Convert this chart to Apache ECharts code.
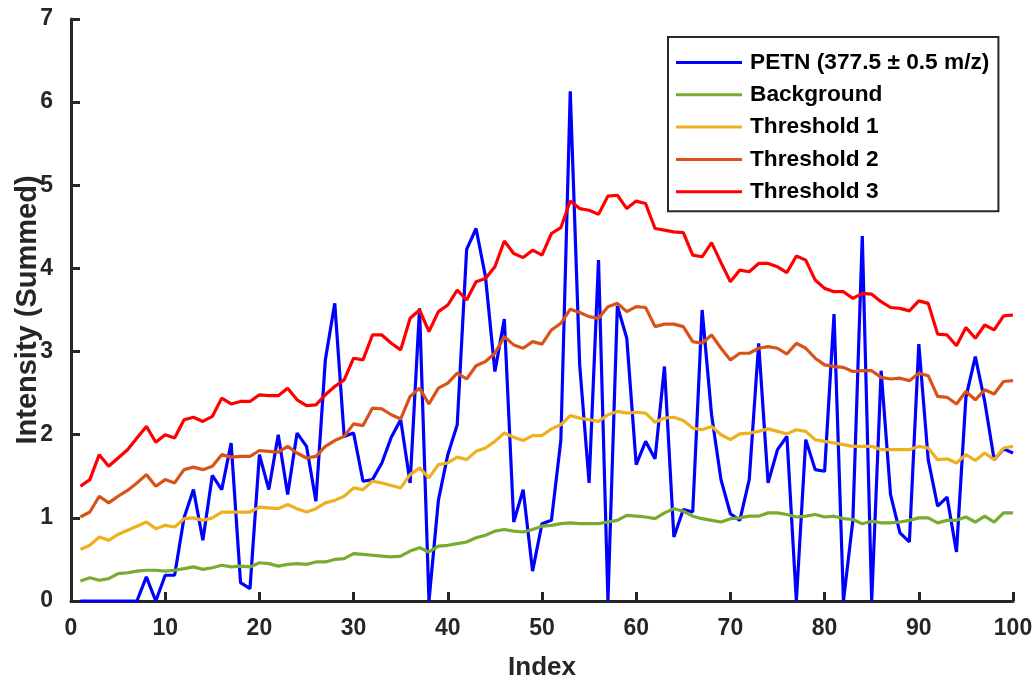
<!DOCTYPE html>
<html>
<head>
<meta charset="utf-8">
<script src="https://cdn.jsdelivr.net/npm/echarts@6/dist/echarts.min.js"></script>
<style>
  html, body { margin: 0; padding: 0; background: #fff; }
  #chart { width: 1034px; height: 680px; }
</style>
</head>
<body>
<div id="chart"></div>
<script>
// index 1..100
const index = Array.from({ length: 100 }, (_, i) => i + 1);

const petn = [
  0, 0, 0, 0, 0, 0, 0, 0.29, 0, 0.31,
  0.31, 1.0, 1.34, 0.73, 1.51, 1.34, 1.9, 0.22, 0.15, 1.76,
  1.34, 2.0, 1.28, 2.02, 1.86, 1.2, 2.9, 3.58, 1.98, 2.02,
  1.44, 1.46, 1.66, 1.97, 2.18, 1.42, 3.52, 0, 1.21, 1.76,
  2.12, 4.23, 4.48, 3.9, 2.76, 3.39, 0.95, 1.34, 0.36, 0.93,
  0.97, 1.93, 6.13, 2.84, 1.42, 4.1, 0, 3.55, 3.16, 1.64,
  1.92, 1.71, 2.82, 0.77, 1.1, 1.07, 3.5, 2.24, 1.46, 1.05,
  0.97, 1.46, 3.1, 1.42, 1.82, 1.98, 0, 1.94, 1.58, 1.56,
  3.45, 0, 0.97, 4.39, 0, 2.77, 1.28, 0.82, 0.71, 3.09,
  1.7, 1.14, 1.25, 0.59, 2.45, 2.94, 2.4, 1.7, 1.83, 1.78
];

const background = [
  0.24, 0.28, 0.25, 0.27, 0.33, 0.34, 0.36, 0.37, 0.37, 0.36,
  0.37, 0.39, 0.41, 0.38, 0.4, 0.43, 0.41, 0.42, 0.41, 0.46,
  0.45, 0.42, 0.44, 0.45, 0.44, 0.47, 0.47, 0.5, 0.51, 0.57,
  0.56, 0.55, 0.54, 0.53, 0.54, 0.6, 0.64, 0.59, 0.66, 0.67,
  0.69, 0.71, 0.76, 0.79, 0.84, 0.86, 0.84, 0.83, 0.86, 0.9,
  0.91, 0.93, 0.94, 0.93, 0.93, 0.93, 0.95, 0.97, 1.03, 1.02,
  1.01, 0.99, 1.06, 1.11, 1.08, 1.02, 0.99, 0.97, 0.95, 0.99,
  1.0, 1.02, 1.02, 1.06, 1.06, 1.04, 1.01, 1.02, 1.04, 1.01,
  1.02, 0.99, 0.98, 0.93, 0.96, 0.94, 0.94, 0.95, 0.97, 1.0,
  1.0, 0.94, 0.97, 0.97, 1.01, 0.95, 1.02, 0.95, 1.06, 1.06
];

const threshold1 = [
  0.62, 0.67, 0.77, 0.73, 0.8, 0.85, 0.9, 0.95, 0.87, 0.91,
  0.89, 0.99, 1.0, 0.97, 1.0, 1.07, 1.07, 1.07, 1.07, 1.13,
  1.12, 1.11, 1.16, 1.11, 1.07, 1.11, 1.18, 1.21, 1.26, 1.36,
  1.34, 1.44, 1.42, 1.39, 1.36, 1.52, 1.6, 1.48, 1.64, 1.66,
  1.73, 1.7, 1.8, 1.84, 1.92, 2.02, 1.97, 1.93, 1.99, 1.99,
  2.07, 2.12, 2.23, 2.2, 2.18, 2.16, 2.24, 2.28, 2.26, 2.27,
  2.26, 2.15, 2.2, 2.21, 2.17, 2.08, 2.06, 2.1, 2.0, 1.94,
  2.01, 2.02, 2.04, 2.07, 2.04, 2.01, 2.06, 2.04, 1.94, 1.92,
  1.9, 1.88, 1.86, 1.86, 1.86, 1.82, 1.82, 1.82, 1.82, 1.86,
  1.84, 1.7, 1.71, 1.66, 1.76, 1.69, 1.78, 1.7, 1.84, 1.86
];

const threshold2 = [
  1.01, 1.07, 1.26, 1.18, 1.26, 1.33, 1.42, 1.52, 1.38, 1.46,
  1.42, 1.58, 1.61, 1.58, 1.62, 1.76, 1.73, 1.74, 1.74, 1.81,
  1.8, 1.79, 1.86, 1.78, 1.72, 1.74, 1.86, 1.93, 1.98, 2.13,
  2.11, 2.32, 2.31, 2.24, 2.19, 2.46, 2.56, 2.37, 2.56, 2.62,
  2.74, 2.67, 2.83, 2.88, 2.98, 3.18, 3.08, 3.04, 3.12, 3.09,
  3.26, 3.34, 3.51, 3.47, 3.42, 3.4, 3.54, 3.58, 3.48, 3.54,
  3.53, 3.3, 3.33, 3.33, 3.3, 3.12, 3.1, 3.2, 3.04, 2.9,
  2.98, 2.98, 3.04, 3.06, 3.04, 2.97, 3.1, 3.04, 2.92, 2.84,
  2.82, 2.81, 2.76, 2.77, 2.77, 2.69, 2.67, 2.68, 2.65, 2.74,
  2.71, 2.46, 2.45, 2.37, 2.52, 2.42, 2.54, 2.49, 2.64, 2.65
];

const threshold3 = [
  1.38, 1.46, 1.76, 1.62, 1.72, 1.82, 1.96, 2.1, 1.91, 2.0,
  1.96, 2.18, 2.21, 2.16, 2.22, 2.44, 2.37, 2.4, 2.4, 2.48,
  2.47, 2.47, 2.56, 2.42, 2.35, 2.36, 2.48, 2.58, 2.66, 2.92,
  2.9, 3.2, 3.2, 3.1, 3.02, 3.4, 3.5, 3.24, 3.48, 3.56,
  3.74, 3.62, 3.84, 3.88, 4.02, 4.33, 4.18, 4.13, 4.22, 4.16,
  4.42, 4.49, 4.81, 4.72, 4.7, 4.65, 4.87, 4.88, 4.72, 4.81,
  4.78, 4.48, 4.46, 4.44, 4.43, 4.16, 4.14, 4.31, 4.07, 3.84,
  3.98, 3.96, 4.06, 4.06, 4.02, 3.95, 4.15, 4.1, 3.86, 3.76,
  3.72, 3.72, 3.64, 3.7, 3.69, 3.6, 3.53, 3.52, 3.49, 3.61,
  3.58, 3.21, 3.2, 3.07, 3.29, 3.16, 3.32, 3.26, 3.43, 3.44
];

const seriesNames = ['PETN (377.5 \u00b1 0.5 m/z)', 'Background', 'Threshold 1', 'Threshold 2', 'Threshold 3'];
const seriesData = [petn, background, threshold1, threshold2, threshold3];
const colors = ['#0000FF', '#77AC30', '#EDB120', '#D95319', '#FF0000'];

const font = '"Liberation Sans", Arial, sans-serif';
const axisColor = '#262626';

const chart = echarts.init(document.getElementById('chart'));

const series = seriesNames.map((name, k) => ({
  name: name,
  type: 'line',
  data: index.map((x, i) => [x, seriesData[k][i]]),
  symbol: 'none',
  lineStyle: { width: 3.2, color: colors[k] },
  itemStyle: { color: colors[k] },
  z: k === 0 ? 2 : 3
}));

chart.setOption({
  animation: false,
  color: colors,
  grid: { left: 71, right: 21, top: 19, bottom: 79, containLabel: false, outerBoundsMode: 'none' },
  legend: {
    orient: 'vertical',
    left: 668,
    top: 37,
    padding: [14, 9, 8, 8],
    icon: 'rect',
    itemWidth: 66,
    itemHeight: 3,
    itemGap: 9.3,
    backgroundColor: '#fff',
    borderColor: axisColor,
    borderWidth: 2,
    textStyle: { fontFamily: font, fontWeight: 'bold', fontSize: 22.7, color: '#000', lineHeight: 22, padding: [0, 0, 0, 3] },
    data: seriesNames
  },
  xAxis: {
    type: 'value',
    min: 0,
    max: 100,
    interval: 10,
    name: 'Index',
    nameLocation: 'middle',
    nameGap: 54,
    nameTextStyle: { fontFamily: font, fontWeight: 'bold', fontSize: 26, color: axisColor },
    axisLine: { lineStyle: { color: axisColor, width: 3 } },
    axisTick: { inside: true, length: 9, lineStyle: { color: axisColor, width: 3 } },
    axisLabel: { margin: 16, fontFamily: font, fontWeight: 'bold', fontSize: 23, color: axisColor },
    splitLine: { show: false }
  },
  yAxis: {
    type: 'value',
    min: 0,
    max: 7,
    interval: 1,
    name: 'Intensity (Summed)',
    nameLocation: 'middle',
    nameGap: 29,
    nameMoveOverlap: false,
    nameTextStyle: { fontFamily: font, fontWeight: 'bold', fontSize: 29, color: axisColor },
    axisLine: { show: true, lineStyle: { color: axisColor, width: 3 } },
    axisTick: { show: true, inside: true, length: 9, lineStyle: { color: axisColor, width: 3 } },
    axisLabel: { margin: 18, fontFamily: font, fontWeight: 'bold', fontSize: 23, color: axisColor },
    splitLine: { show: false }
  },
  series: series
});
</script>
</body>
</html>
